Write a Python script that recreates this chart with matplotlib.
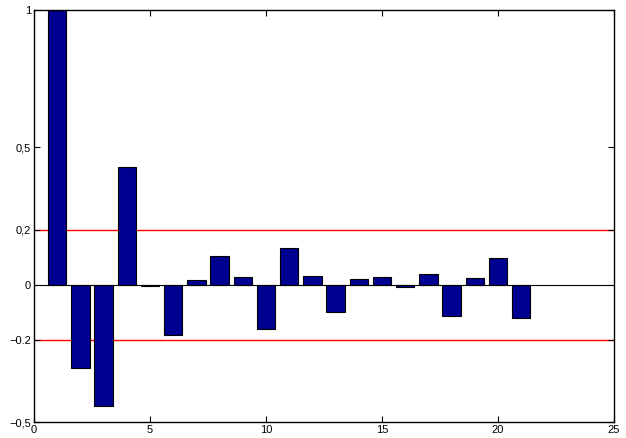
import matplotlib
matplotlib.use("Agg")
import matplotlib.pyplot as plt

lags = list(range(1, 22))
acf = [1.0, -0.305, -0.44, 0.427, -0.006, -0.185, 0.016, 0.103, 0.029, -0.16,
       0.133, 0.032, -0.098, 0.021, 0.029, -0.008, 0.04, -0.113, 0.024, 0.098, -0.122]
ytick_vals = [-0.5, -0.2, 0, 0.2, 0.5, 1]
ytick_labels = ["\u22120,5", "\u22120.2", "0", "0,2", "0,5", "1"]
xtick_vals = [0, 5, 10, 15, 20, 25]
bound = 0.2

plt.rcParams['font.family'] = ['Liberation Sans', 'DejaVu Sans']
fig = plt.figure(figsize=(6.26, 4.38), dpi=100)
ax = fig.add_axes([34/626, 16/438, 580/626, 412/438])

ax.bar(lags, acf, width=0.8, color='#000090', edgecolor='black', linewidth=0.8, zorder=2)
ax.axhline(0, color='black', linewidth=0.8, zorder=3)
ax.axhline(bound, color='red', linewidth=1.0, zorder=1)
ax.axhline(-bound, color='red', linewidth=1.0, zorder=1)

ax.set_xlim(0, 25)
ax.set_ylim(-0.5, 1)
ax.set_xticks(xtick_vals)
ax.set_xticklabels([str(v) for v in xtick_vals])
ax.set_yticks(ytick_vals)
ax.set_yticklabels(ytick_labels)
ax.tick_params(direction='in', top=True, right=True, labelsize=8, length=4, width=0.8, pad=2)
for s in ax.spines.values():
    s.set_linewidth(1.0)

fig.savefig("out.png", dpi=100)
